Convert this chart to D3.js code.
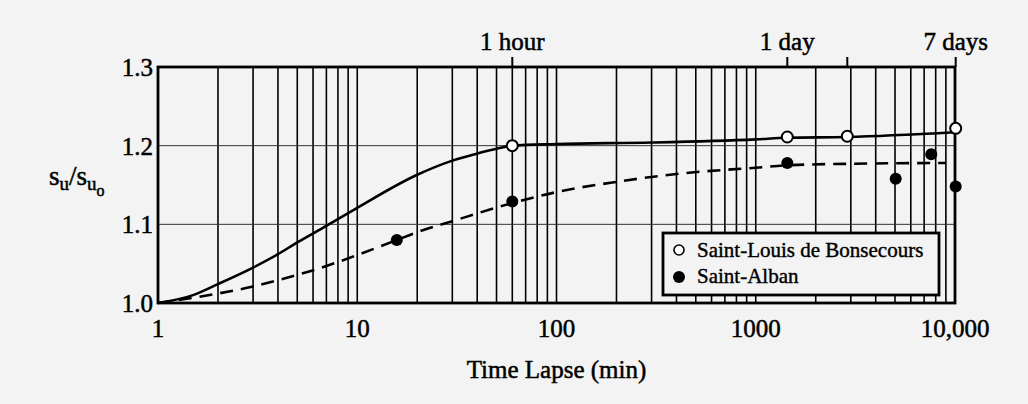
<!DOCTYPE html>
<html>
<head>
<meta charset="utf-8">
<script src="https://cdn.jsdelivr.net/npm/d3@7"></script>
<style>
    body { margin: 0; background: #f3f3f3; }
    #chart-area text { font-family: "Liberation Serif", "Times New Roman", serif; fill: #000; }
</style>
</head>
<body>
<div id="chart-area"></div>
<script>
// Saint-Louis de Bonsecours (solid curve, open circles)
const stLouisCurveT = [1, 1.5, 2, 3, 4, 5, 7, 10, 20, 30, 40, 50, 60, 100, 300, 1000, 1440, 2880, 10000];
const stLouisCurveV = [1.000, 1.010, 1.024, 1.045, 1.062, 1.077, 1.098, 1.121, 1.163, 1.181, 1.190, 1.196, 1.200, 1.202, 1.204, 1.208, 1.210, 1.211, 1.217];
const stLouisT = [60, 1440, 2880, 10080];
const stLouisV = [1.200, 1.211, 1.212, 1.222];

// Saint-Alban (dashed curve, filled circles)
const stAlbanCurveT = [1, 2, 3, 4, 7, 10, 15.8, 20, 30, 60, 100, 200, 400, 1000, 1440, 3000, 9000];
const stAlbanCurveV = [1.000, 1.012, 1.021, 1.029, 1.047, 1.061, 1.080, 1.090, 1.104, 1.127, 1.141, 1.154, 1.164, 1.172, 1.175, 1.177, 1.178];
const stAlbanT = [15.8, 60, 1440, 5040, 7600, 10080];
const stAlbanV = [1.080, 1.129, 1.178, 1.158, 1.189, 1.148];

// axis labels
const bottomTicks = [1, 10, 100, 1000, 10000];
const bottomLabels = ["1", "10", "100", "1000", "10,000"];
const topTicks = [60, 1440, 2880, 10080];
const topLabels = ["1 hour", "1 day", "", "7 days"];
const yTicks = [1.0, 1.1, 1.2, 1.3];
const yGrid = [1.1, 1.2];

class StrengthVis {
    constructor(parentElement) {
        this.parentElement = parentElement;
        this.initVis();
    }

    initVis() {
        let vis = this;

        vis.width = 1028;
        vis.height = 404;
        vis.plot = { left: 158, right: 955, top: 67, bottom: 303 };

        vis.svg = d3.select("#" + vis.parentElement).append("svg")
            .attr("width", vis.width)
            .attr("height", vis.height);

        vis.x = d3.scaleLog().domain([1, 10000]).range([vis.plot.left, vis.plot.right]);
        vis.y = d3.scaleLinear().domain([1.0, 1.3]).range([vis.plot.bottom, vis.plot.top]);

        vis.drawGrid();
        vis.drawAxes();
        vis.drawSeries();
        vis.drawLegend();
    }

    drawGrid() {
        let vis = this;

        // vertical log grid (every minor tick)
        vis.svg.append("g").selectAll("line")
            .data(vis.x.ticks())
            .join("line")
            .attr("x1", d => vis.x(d)).attr("x2", d => vis.x(d))
            .attr("y1", vis.plot.top).attr("y2", vis.plot.bottom)
            .attr("stroke", "#000")
            .attr("stroke-width", 1.6);

        vis.svg.append("g").selectAll("line")
            .data(yGrid)
            .join("line")
            .attr("x1", vis.plot.left).attr("x2", vis.plot.right)
            .attr("y1", d => vis.y(d)).attr("y2", d => vis.y(d))
            .attr("stroke", "#333")
            .attr("stroke-width", 1);

        vis.svg.append("rect")
            .attr("x", vis.plot.left)
            .attr("y", vis.plot.top)
            .attr("width", vis.plot.right - vis.plot.left)
            .attr("height", vis.plot.bottom - vis.plot.top)
            .attr("fill", "none")
            .attr("stroke", "#000")
            .attr("stroke-width", 2.8);
    }

    drawAxes() {
        let vis = this;

        vis.svg.append("g").selectAll("text")
            .data(bottomTicks)
            .join("text")
            .attr("x", d => vis.x(d))
            .attr("y", 337)
            .attr("text-anchor", "middle")
            .style("font-size", "25px")
            .style("stroke", "#000").style("stroke-width", 0.5)
            .text((d, i) => bottomLabels[i]);

        // top time markers
        vis.svg.append("g").selectAll("line")
            .data(topTicks)
            .join("line")
            .attr("x1", d => vis.x(d)).attr("x2", d => vis.x(d))
            .attr("y1", vis.plot.top - 10).attr("y2", vis.plot.top)
            .attr("stroke", "#000")
            .attr("stroke-width", 2);

        vis.svg.append("g").selectAll("text")
            .data(topTicks)
            .join("text")
            .attr("x", d => vis.x(d))
            .attr("y", 50)
            .attr("text-anchor", "middle")
            .style("font-size", "25px")
            .style("stroke", "#000").style("stroke-width", 0.5)
            .text((d, i) => topLabels[i]);

        vis.svg.append("g").selectAll("text")
            .data(yTicks)
            .join("text")
            .attr("x", 153)
            .attr("y", d => vis.y(d) + 9)
            .attr("text-anchor", "end")
            .style("font-size", "25px")
            .style("stroke", "#000").style("stroke-width", 0.5)
            .text(d => d.toFixed(1));

        vis.svg.append("text")
            .attr("x", (vis.plot.left + vis.plot.right) / 2)
            .attr("y", 378)
            .attr("text-anchor", "middle")
            .style("font-size", "25px")
            .style("stroke", "#000").style("stroke-width", 0.5)
            .text("Time Lapse (min)");

        // s_u / s_u_o
        const yTitle = vis.svg.append("text")
            .attr("x", 49)
            .attr("y", 185)
            .style("font-size", "27px")
            .style("stroke", "#000").style("stroke-width", 0.5);
        yTitle.append("tspan").text("s");
        yTitle.append("tspan").attr("dy", 5).style("font-size", "19px").text("u");
        yTitle.append("tspan").attr("dy", -5).text("/s");
        yTitle.append("tspan").attr("dy", 5).style("font-size", "19px").text("u");
        yTitle.append("tspan").attr("dy", 6).style("font-size", "16px").text("o");
    }

    drawSeries() {
        let vis = this;

        const line = d3.line()
            .x(d => vis.x(d[0]))
            .y(d => vis.y(d[1]))
            .curve(d3.curveMonotoneX);

        vis.svg.append("path")
            .datum(d3.zip(stAlbanCurveT, stAlbanCurveV))
            .attr("d", line)
            .attr("fill", "none")
            .attr("stroke", "#000")
            .attr("stroke-width", 2.6)
            .attr("stroke-dasharray", "13,8");

        vis.svg.append("path")
            .datum(d3.zip(stLouisCurveT, stLouisCurveV))
            .attr("d", line)
            .attr("fill", "none")
            .attr("stroke", "#000")
            .attr("stroke-width", 2.6);

        vis.svg.append("g").selectAll("circle")
            .data(d3.zip(stAlbanT, stAlbanV))
            .join("circle")
            .attr("cx", d => vis.x(d[0]))
            .attr("cy", d => vis.y(d[1]))
            .attr("r", 6)
            .attr("fill", "#000");

        vis.svg.append("g").selectAll("circle")
            .data(d3.zip(stLouisT, stLouisV))
            .join("circle")
            .attr("cx", d => vis.x(d[0]))
            .attr("cy", d => vis.y(d[1]))
            .attr("r", 5.5)
            .attr("fill", "#fff")
            .attr("stroke", "#000")
            .attr("stroke-width", 2);
    }

    drawLegend() {
        let vis = this;

        const legend = vis.svg.append("g").attr("transform", "translate(663, 233)");

        legend.append("rect")
            .attr("width", 276)
            .attr("height", 62)
            .attr("fill", "#f3f3f3")
            .attr("stroke", "#000")
            .attr("stroke-width", 2.8);

        legend.append("circle")
            .attr("cx", 16).attr("cy", 17).attr("r", 5)
            .attr("fill", "#fff").attr("stroke", "#000").attr("stroke-width", 1.6);
        legend.append("circle")
            .attr("cx", 16).attr("cy", 44).attr("r", 6)
            .attr("fill", "#000");

        legend.append("text")
            .attr("x", 34).attr("y", 24)
            .style("font-size", "21px")
            .style("stroke", "#000").style("stroke-width", 0.4)
            .text("Saint-Louis de Bonsecours");
        legend.append("text")
            .attr("x", 34).attr("y", 50)
            .style("font-size", "21px")
            .style("stroke", "#000").style("stroke-width", 0.4)
            .text("Saint-Alban");
    }
}

new StrengthVis("chart-area");
</script>
</body>
</html>
